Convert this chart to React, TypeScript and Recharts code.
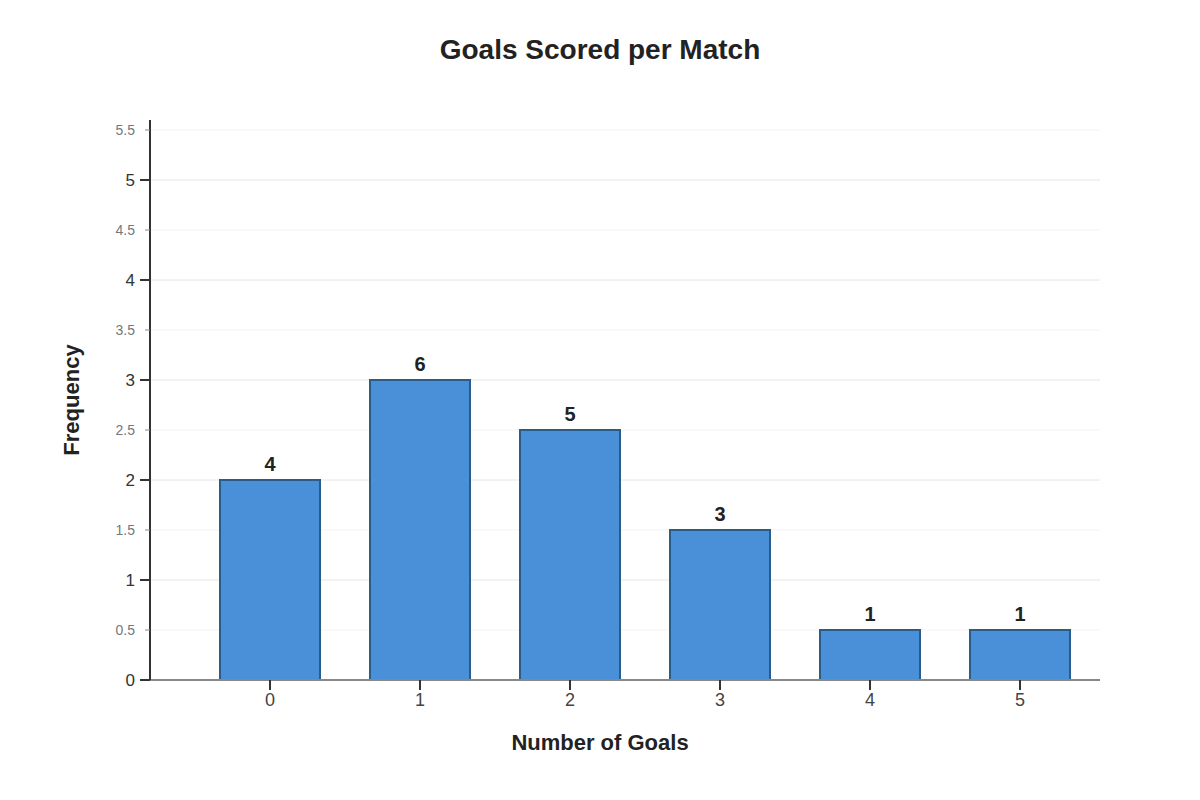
import React from 'react';
import { BarChart, Bar, XAxis, YAxis, CartesianGrid, LabelList } from 'recharts';

const goals = ['0', '1', '2', '3', '4', '5'];
const barHeights = [2, 3, 2.5, 1.5, 0.5, 0.5];
const frequencyLabels = [4, 6, 5, 3, 1, 1];
const majorTicks = [0, 1, 2, 3, 4, 5];
const minorTicks = [0.5, 1.5, 2.5, 3.5, 4.5, 5.5];
const yTicks = [0, 0.5, 1, 1.5, 2, 2.5, 3, 3.5, 4, 4.5, 5, 5.5];

const data = goals.map((g, i) => ({ goals: g, height: barHeights[i], label: frequencyLabels[i] }));

const FONT = '"Liberation Sans", Arial, sans-serif';

const YTick = (props: any) => {
  const { x, y, payload } = props;
  const major = majorTicks.includes(payload.value);
  return (
    <g>
      <line x1={x - (major ? 10 : 5)} x2={x} y1={y} y2={y} stroke={major ? '#333' : '#888'} strokeWidth={major ? 2 : 1} />
      <text
        x={x - 15}
        y={y}
        dy={major ? 6 : 5}
        textAnchor="end"
        fontFamily={FONT}
        fontSize={major ? 17 : 14}
        fill={major ? '#333' : '#777'}
      >
        {payload.value}
      </text>
    </g>
  );
};

const XTick = (props: any) => {
  const { x, y, payload } = props;
  return (
    <g>
      <line x1={x} x2={x} y1={y} y2={y + 10} stroke="#333" strokeWidth={2} />
      <text x={x} y={y + 26} textAnchor="middle" fontFamily={FONT} fontSize={18} fill="#444">
        {payload.value}
      </text>
    </g>
  );
};

export default function App() {
  return (
    <div style={{ position: 'absolute', left: 0, top: 0, width: 1200, height: 800, background: '#fff', fontFamily: FONT }}>
      <div style={{ position: 'absolute', top: 34, left: 0, width: 1200, textAlign: 'center', fontSize: 28, fontWeight: 'bold', color: '#222' }}>
        Goals Scored per Match
      </div>
      <div style={{ position: 'absolute', top: 730, left: 0, width: 1200, textAlign: 'center', fontSize: 22, fontWeight: 'bold', color: '#222' }}>
        Number of Goals
      </div>
      <div
        style={{
          position: 'absolute',
          left: 72,
          top: 400,
          transform: 'translate(-50%, -50%) rotate(-90deg)',
          fontSize: 22,
          fontWeight: 'bold',
          color: '#222',
          whiteSpace: 'nowrap',
        }}
      >
        Frequency
      </div>
      <BarChart width={1200} height={800} data={data} margin={{ top: 120, right: 100, left: 90, bottom: 60 }}>
        <CartesianGrid vertical={false} horizontalValues={minorTicks} stroke="#f3f3f3" strokeWidth={1} />
        <CartesianGrid vertical={false} horizontalValues={majorTicks.filter((t) => t > 0)} stroke="#e6e6e6" strokeWidth={1} />
        <XAxis
          dataKey="goals"
          height={60}
          padding={{ left: 45, right: 5 }}
          axisLine={{ stroke: '#888', strokeWidth: 2 }}
          tickLine={false}
          tickSize={0}
          tickMargin={0}
          tick={<XTick />}
          interval={0}
        />
        <YAxis
          type="number"
          domain={[0, 5.6]}
          ticks={yTicks}
          width={60}
          axisLine={{ stroke: '#333', strokeWidth: 2 }}
          tickLine={false}
          tickSize={0}
          tickMargin={0}
          tick={<YTick />}
          interval={0}
        />
        <Bar dataKey="height" barSize={100} fill="#4a90d9" stroke="#2b5b87" strokeWidth={2} isAnimationActive={false}>
          <LabelList dataKey="label" position="top" offset={9} fill="#222" fontSize={20} fontWeight="bold" fontFamily={FONT} />
        </Bar>
      </BarChart>
    </div>
  );
}
